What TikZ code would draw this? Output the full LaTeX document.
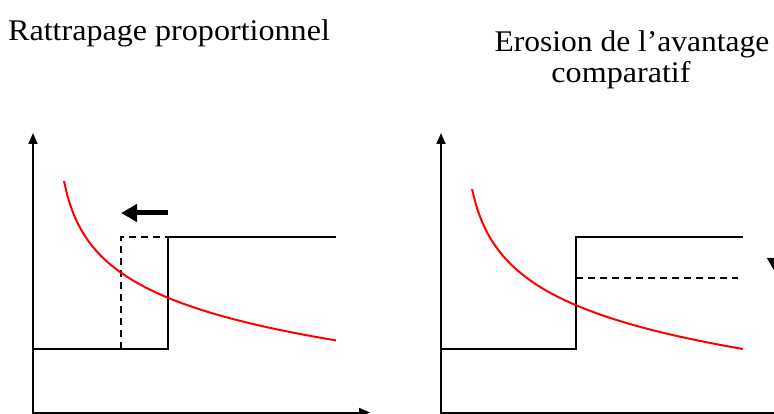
\documentclass[tikz,border=0pt]{standalone}
\usepackage{fontspec}
\setmainfont{Liberation Serif}
\usetikzlibrary{arrows.meta}
\begin{document}
\begin{tikzpicture}[x=1pt,y=-1pt,
 ax/.style={line width=2pt,-{Triangle[length=11pt,width=9pt]}},
 stepline/.style={line width=2pt},
 dashline/.style={line width=2pt,dash pattern=on 7pt off 5pt},
 demand/.style={line width=2pt,red,smooth,samples=80},
 bigarrow/.style={line width=5pt,-{Triangle[length=16pt,width=17pt]}},
 title/.style={font=\fontsize{30}{31}\selectfont,anchor=base,inner sep=0pt}]
\clip (0,0) rectangle (774,414);
\fill[white] (0,0) rectangle (774,414);
% titles
\node[title] (t1) at (169,41) {\scalebox{1.07}[1]{Rattrapage proportionnel}};
\node[title] (t2) at (632,52) {\scalebox{1.05}[1]{Erosion de l’avantage}};
\node[title] (t3) at (621,83) {\scalebox{1.07}[1]{comparatif}};
% left panel
\coordinate (o1) at (33,414);
\coordinate (ytop1) at (33,133);
\coordinate (x0a) at (32,412.5);
\coordinate (xend1) at (370,412.5);
\draw[ax] (o1) -- (ytop1);
\draw[ax] (x0a) -- (xend1);
\coordinate (a1) at (33,349);
\coordinate (a2) at (168,349);
\coordinate (a3) at (168,237);
\coordinate (a4) at (336,237);
\draw[stepline] (a1) -- (a2) -- (a3) -- (a4);
\coordinate (d1) at (121,349);
\coordinate (d2) at (121,237);
\draw[dashline] (d1) -- (d2) -- (a3);
\draw[demand,domain=64:336] plot (\x,{75.9+46.9*ln(\x-54.6)});
\coordinate (ar1) at (168,213);
\coordinate (ar2) at (121,213);
\draw[bigarrow] (ar1) -- (ar2);
% right panel
\coordinate (o2) at (441,414);
\coordinate (ytop2) at (441,133);
\coordinate (x0b) at (440,412.5);
\coordinate (xend2) at (790,412.5);
\draw[ax] (o2) -- (ytop2);
\draw[ax] (x0b) -- (xend2);
\coordinate (b1) at (441,349);
\coordinate (b2) at (576,349);
\coordinate (b3) at (576,237);
\coordinate (b4) at (743,237);
\draw[stepline] (b1) -- (b2) -- (b3) -- (b4);
\coordinate (e1) at (576,278);
\coordinate (e2) at (738,278);
\draw[dashline] (e1) -- (e2);
\draw[demand,domain=472:743] plot (\x,{74.6+48.65*ln(\x-461.5)});
\coordinate (br1) at (776,237);
\coordinate (br2) at (776,274);
\draw[bigarrow] (br1) -- (br2);
\end{tikzpicture}
\end{document}
